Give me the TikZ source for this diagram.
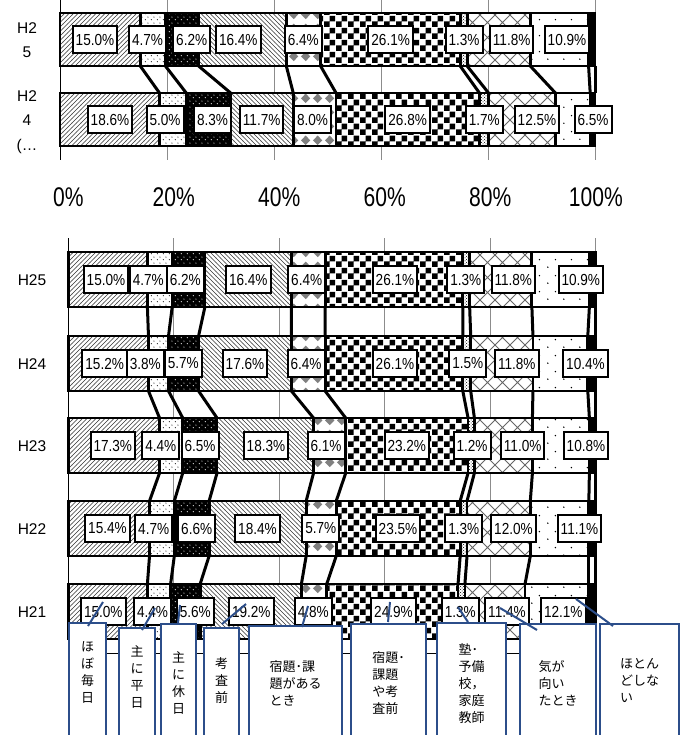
\documentclass[tikz,border=0pt]{standalone}
\usepackage{fontspec}
\setmainfont{Liberation Sans}
\newfontfamily\pctfont{Liberation Sans}[FakeStretch=0.85]
\newfontfamily\tickfont{Liberation Sans}[FakeStretch=0.78]
\newfontfamily\jpfont{Noto Sans CJK JP}
\usepackage{tikz}
\usetikzlibrary{patterns, calc}

\definecolor{calloutblue}{RGB}{44,78,138}

\pgfdeclarepatternformonly{hatchne}{\pgfqpoint{-1pt}{-1pt}}{\pgfqpoint{5.5pt}{5.5pt}}{\pgfqpoint{4.5pt}{4.5pt}}{%
  \pgfsetlinewidth{0.6pt}%
  \pgfpathmoveto{\pgfqpoint{-0.1pt}{-0.1pt}}%
  \pgfpathlineto{\pgfqpoint{4.6pt}{4.6pt}}%
  \pgfusepath{stroke}}
\pgfdeclarepatternformonly{hatchnw}{\pgfqpoint{-1pt}{-1pt}}{\pgfqpoint{5.5pt}{5.5pt}}{\pgfqpoint{4.5pt}{4.5pt}}{%
  \pgfsetlinewidth{0.6pt}%
  \pgfpathmoveto{\pgfqpoint{-0.1pt}{4.6pt}}%
  \pgfpathlineto{\pgfqpoint{4.6pt}{-0.1pt}}%
  \pgfusepath{stroke}}
\pgfdeclarepatternformonly{finedots}{\pgfqpoint{0pt}{0pt}}{\pgfqpoint{6pt}{6pt}}{\pgfqpoint{6pt}{6pt}}{%
  \pgfpathcircle{\pgfqpoint{1.5pt}{1.5pt}}{0.65pt}%
  \pgfpathcircle{\pgfqpoint{4.5pt}{4.5pt}}{0.65pt}%
  \pgfusepath{fill}}
\pgfdeclarepatternformonly{sparsedots}{\pgfqpoint{0pt}{0pt}}{\pgfqpoint{16pt}{16pt}}{\pgfqpoint{16pt}{16pt}}{%
  \pgfpathcircle{\pgfqpoint{4pt}{4pt}}{0.8pt}%
  \pgfpathcircle{\pgfqpoint{12pt}{12pt}}{0.8pt}%
  \pgfusepath{fill}}
\pgfdeclarepatternformonly{gems}{\pgfqpoint{0pt}{0pt}}{\pgfqpoint{12pt}{14pt}}{\pgfqpoint{12pt}{14pt}}{%
  \pgfpathmoveto{\pgfqpoint{6pt}{2pt}}%
  \pgfpathlineto{\pgfqpoint{11pt}{7pt}}%
  \pgfpathlineto{\pgfqpoint{6pt}{12pt}}%
  \pgfpathlineto{\pgfqpoint{1pt}{7pt}}%
  \pgfpathclose
  \pgfusepath{fill}}
\pgfdeclarepatternformonly{checks}{\pgfqpoint{0pt}{0pt}}{\pgfqpoint{12pt}{12pt}}{\pgfqpoint{12pt}{12pt}}{%
  \pgfpathrectangle{\pgfqpoint{0pt}{0pt}}{\pgfqpoint{6pt}{6pt}}%
  \pgfpathrectangle{\pgfqpoint{6pt}{6pt}}{\pgfqpoint{6pt}{6pt}}%
  \pgfusepath{fill}}
\pgfdeclarepatternformonly{bigcross}{\pgfqpoint{-1pt}{-1pt}}{\pgfqpoint{16pt}{16pt}}{\pgfqpoint{15pt}{15pt}}{%
  \pgfsetlinewidth{0.8pt}%
  \pgfpathmoveto{\pgfqpoint{0pt}{0pt}}\pgfpathlineto{\pgfqpoint{15pt}{15pt}}%
  \pgfpathmoveto{\pgfqpoint{0pt}{15pt}}\pgfpathlineto{\pgfqpoint{15pt}{0pt}}%
  \pgfusepath{stroke}}

\tikzset{
  seg/.style={draw=black, line width=2.8pt, preaction={fill=white}},
  seg1/.style={pattern=hatchne, pattern color=black!80},
  seg2/.style={pattern=finedots},
  seg3/.style={preaction={fill=black}, pattern=finedots, pattern color=white},
  seg4/.style={pattern=hatchnw, pattern color=black!80},
  seg5/.style={pattern=gems, pattern color=black!50},
  seg6/.style={pattern=checks},
  seg7/.style={pattern=crosshatch dots},
  seg8/.style={pattern=bigcross, pattern color=black!60},
  seg9/.style={pattern=sparsedots},
  seg10/.style={fill=black},
  pct/.style={draw=black, line width=2pt, fill=white, inner xsep=3pt, inner ysep=0pt,
    minimum height=27.5pt, font=\pctfont\fontsize{16}{16}\selectfont},
  serie/.style={line width=3pt},
  gridline/.style={black!45, line width=0.8pt},
  axisline/.style={black, line width=0.9pt},
  yrlab/.style={font=\fontsize{15.5}{24.5}\selectfont, align=center},
  ticklab/.style={font=\tickfont\fontsize{27}{30}\selectfont},
  callout/.style={draw=calloutblue, line width=2pt, fill=white, anchor=north west,
    text depth=110pt, font=\jpfont\fontsize{13}{17}\selectfont},
  leader/.style={calloutblue, line width=2pt},
}

\begin{document}
\begin{tikzpicture}[x=1pt, y=-1pt]
\useasboundingbox (0,0) rectangle (687,735);
\clip (0,0) rectangle (687,735);

% upper chart
\foreach \k in {1,...,5}
  \draw[gridline] (60+107*\k,0) -- (60+107*\k,160);
\draw[axisline] (60,0) -- (60,160);

\foreach \yr/\yt/\vals in {
  25/13/{15.0/95, 4.7/147.5, 6.2/191.7, 16.4/238.3, 6.4/303.3, 26.1/390.7, 1.3/464, 11.8/511.7, 10.9/567},
  24/93/{18.6/110, 5.0/165, 8.3/212.5, 11.7/261.7, 8.0/312.5, 26.8/407.7, 1.7/484.3, 12.5/537, 6.5/593}}
{
  \gdef\cum{0}
  \foreach \v/\lx [count=\i] in \vals {
    \pgfmathsetmacro\nxt{\cum+\v}
    \draw[seg, seg\i] (60+5.35*\cum,\yt) rectangle (60+5.35*\nxt,\yt+53);
    \coordinate (t\yr-\i-u) at (60+5.35*\nxt,\yt);
    \coordinate (t\yr-\i-d) at (60+5.35*\nxt,\yt+53);
    \xdef\cum{\nxt}
  }
  \draw[seg, seg10] (60+5.35*\cum,\yt) rectangle (595,\yt+53);
  \coordinate (t\yr-10-u) at (595,\yt);
  \coordinate (t\yr-10-d) at (595,\yt+53);
  \foreach \v/\lx [count=\i] in \vals
    \node[pct] (t\yr-l\i) at (\lx,\yt+26.5) {\v\%};
}
\foreach \i in {1,...,10}
  \draw[serie] (t25-\i-d) -- (t24-\i-u);

\node[yrlab] (t25) at (27,40) {H2\\5};
\node[yrlab] (t24) at (27,122) {H2\\4\\(…};

\foreach \p [count=\k from 0] in {0,20,40,60,80,100}
  \node[ticklab] (tick\p) at (68.3+105.5*\k,197) {\p\%};

% lower chart
\foreach \k in {1,...,5}
  \draw[gridline] (68.3+105.5*\k,238) -- (68.3+105.5*\k,653);
\draw[axisline] (68.3,238) -- (68.3,653) -- (595.7,653);

\foreach \yr/\yt/\vals in {
  25/252/{15.0/106, 4.7/148.3, 6.2/185.3, 16.4/248.3, 6.4/306.7, 26.1/395, 1.3/465.8, 11.8/513.3, 10.9/580.8},
  24/336/{15.2/104.7, 3.8/145.3, 5.7/183.3, 17.6/245, 6.4/306, 26.1/395, 1.5/467.8, 11.8/516.8, 10.4/585.5},
  23/418/{17.3/112.8, 4.4/160.8, 6.5/200, 18.3/266, 6.1/326, 23.2/406.8, 1.2/472, 11.0/522.7, 10.8/586},
  22/501/{15.4/107.5, 4.7/153.7, 6.6/196.7, 18.4/257.5, 5.7/320.8, 23.5/398, 1.3/463.8, 12.0/513.5, 11.1/579.5},
  21/584/{15.0/103.3, 4.4/152.5, 5.6/195.3, 19.2/251.3, 4.8/313.3, 24.9/393.5, 1.3/460.3, 11.4/507, 12.1/563.3}}
{
  \gdef\cum{0}
  \foreach \v/\lx [count=\i] in \vals {
    \pgfmathsetmacro\nxt{\cum+\v}
    \draw[seg, seg\i] (68.3+5.274*\cum,\yt) rectangle (68.3+5.274*\nxt,\yt+55);
    \coordinate (b\yr-\i-u) at (68.3+5.274*\nxt,\yt);
    \coordinate (b\yr-\i-d) at (68.3+5.274*\nxt,\yt+55);
    \xdef\cum{\nxt}
  }
  \draw[seg, seg10] (68.3+5.274*\cum,\yt) rectangle (595.7,\yt+55);
  \coordinate (b\yr-10-u) at (595.7,\yt);
  \coordinate (b\yr-10-d) at (595.7,\yt+55);
  \foreach \v/\lx [count=\i] in \vals
    \node[pct] (b\yr-l\i) at (\lx,\yt+27.5) {\v\%};
  \node[yrlab] (b\yr) at (32,\yt+28.5) {H\yr};
}
\foreach \a/\c in {25/24, 24/23, 23/22, 22/21}
  \foreach \i in {1,...,10}
    \draw[serie] (b\a-\i-d) -- (b\c-\i-u);

% callouts
\node[callout, minimum width=37pt, inner ysep=18.5pt, align=center] (c1) at (68,622) {ほ\\ぼ\\毎\\日};
\node[callout, minimum width=36pt, inner ysep=17.5pt, align=center] (c2) at (118,627) {主\\に\\平\\日};
\node[callout, minimum width=35pt, inner ysep=27.5pt, align=center] (c3) at (160,623) {主\\に\\休\\日};
\node[callout, minimum width=35pt, inner ysep=29.5pt, align=center] (c4) at (203,627) {考\\査\\前};
\node[callout, minimum width=93pt, inner ysep=34.5pt, align=left] (c5) at (248,625) {宿題･課\\題がある\\とき};
\node[callout, minimum width=75pt, inner ysep=27.5pt, align=left] (c6) at (350,623) {宿題･\\課題\\や考\\査前};
\node[callout, minimum width=69pt, inner ysep=20.5pt, align=left] (c7) at (436,622) {塾･\\予備\\校，\\家庭\\教師};
\node[callout, minimum width=76pt, inner ysep=36.5pt, align=left] (c8) at (519,623) {気が\\向い\\たとき};
\node[callout, minimum width=79pt, inner ysep=34.5pt, align=left] (c9) at (599,623) {ほとん\\どしな\\い};

\coordinate (tip1) at (103,602);
\coordinate (tip2) at (155,608);
\coordinate (tip3) at (180,605);
\coordinate (tip4) at (246,604);
\coordinate (tip5) at (308,606);
\coordinate (tip6) at (390,602);
\coordinate (tip7) at (458,607);
\coordinate (tip8) at (500,608);
\coordinate (tip9) at (576,599);

\draw[leader] ($(c1.north west)+(20,4)$) -- (tip1);
\draw[leader] ($(c2.north west)+(24,3)$) -- (tip2);
\draw[leader] ($(c3.north west)+(18,0)$) -- (tip3);
\draw[leader] ($(c4.north west)+(19,-3)$) -- (tip4);
\draw[leader] ($(c5.north west)+(54,2)$) -- (tip5);
\draw[leader] ($(c6.north west)+(38,-1)$) -- (tip6);
\draw[leader] ($(c7.north west)+(32,0)$) -- (tip7);
\draw[leader] ($(c8.north west)+(18,7)$) -- (tip8);
\draw[leader] ($(c9.north west)+(14,3)$) -- (tip9);

\end{tikzpicture}
\end{document}
